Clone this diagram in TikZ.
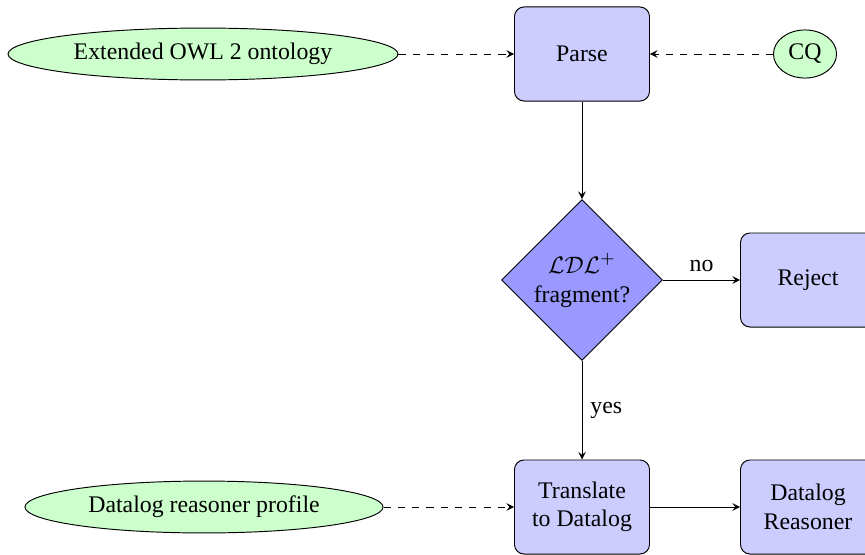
\documentclass[tikz,border=0pt]{standalone}
\usepackage{amsmath, amssymb}
\usepackage{fontspec}
\setmainfont{Liberation Serif}
\usetikzlibrary{shapes.geometric, arrows}

\tikzset{
  stepbox/.style={rectangle, rounded corners=4pt, draw, fill=blue!20, align=center,
    minimum width=56.7pt, minimum height=39.5pt, inner sep=0pt},
  decision/.style={diamond, draw, fill=blue!40, align=center, minimum size=67.6pt,
    inner sep=0pt},
  inputs/.style={ellipse, draw, fill=green!20, minimum height=21.8pt, inner sep=0pt},
  flow/.style={->, >=stealth},
  feed/.style={->, >=stealth, dashed}
}

\begin{document}
\begin{tikzpicture}[x=0.42pt, y=-0.42pt]
\useasboundingbox (0,0) rectangle (865,554);
% Main pipeline
\node[stepbox] (parse) at (582,54) {Parse};
\node[decision] (frag) at (582,280) {$\mathcal{LDL}^+$\\fragment?};
\node[stepbox] (reject) at (808,280) {Reject};
\node[stepbox] (trans) at (582,507) {Translate\\to Datalog};
\node[stepbox] (reasoner) at (808,507) {Datalog\\Reasoner};
% Inputs
\node[inputs, minimum width=163.8pt] (onto) at (203,54) {Extended OWL 2 ontology};
\node[inputs, minimum width=26.5pt, minimum height=20.2pt] (cq) at (805,54) {CQ};
\node[inputs, minimum width=150.4pt] (profile) at (204,507) {Datalog reasoner profile};
\draw[feed] (onto) -- (parse);
\draw[feed] (cq) -- (parse);
\draw[flow] (parse) -- (frag);
\draw[flow] (frag) -- node[above] {no} (reject);
\draw[flow] (frag) -- node[right] {yes} (trans);
\draw[feed] (profile) -- (trans);
\draw[flow] (trans) -- (reasoner);
\end{tikzpicture}
\end{document}
